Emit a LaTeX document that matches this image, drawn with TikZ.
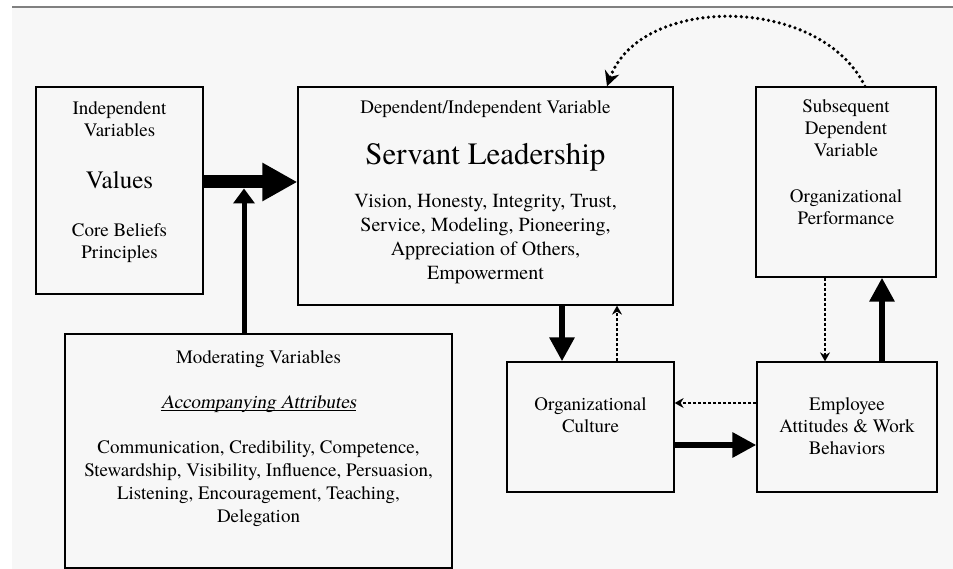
\documentclass[tikz,border=0pt]{standalone}
\usepackage{fontspec}
\newfontfamily\timesfont{TeX Gyre Termes}
\newfontfamily\timesslant{TeX Gyre Termes}[FakeSlant=0.2]
\usetikzlibrary{positioning,arrows.meta}

\tikzset{
  box/.style={draw, line width=1.3pt, inner sep=0pt},
  txt/.style={inner sep=0pt, align=center, font=\timesfont\fontsize{19}{22}\selectfont},
  heavy/.style={line width=6pt, -{Triangle[length=24pt,width=24pt]}},
  weak/.style={line width=1.2pt, dash pattern=on 3pt off 2pt, -{Stealth[length=9pt,width=10pt,inset=3pt]}},
  dotloop/.style={line width=3.6pt, dash pattern=on 0pt off 5.5pt, line cap=round, -{Stealth[length=15pt,width=15pt,inset=5pt]}}
}

\begin{document}
\begin{tikzpicture}[x=1pt, y=-1pt]
    \useasboundingbox (0,0) rectangle (953,569);
    % --- Paper and top rule ---
    \fill[black!3] (12,7) rectangle (953,569);
    \draw[gray, line width=1.5pt] (12,7) -- (953,7);

    % --- Boxes ---
    \node[box, minimum width=167pt, minimum height=207pt] (values) at (119.5,190.5) {};
    \node[box, minimum width=375pt, minimum height=218pt] (servant) at (485.5,196) {};
    \node[box, minimum width=180pt, minimum height=190pt] (perf) at (846,182) {};
    \node[box, minimum width=167pt, minimum height=130pt] (culture) at (590.5,427) {};
    \node[box, minimum width=180pt, minimum height=130pt] (employee) at (847,427) {};
    \node[box, minimum width=387pt, minimum height=234pt] (moder) at (258.5,451) {};

    % --- Box texts ---
    \node[txt, below=15pt of values.north] (valuestxt)
        {Independent\\Variables\\[30pt]{\fontsize{25}{30}\selectfont Values}\\[26pt]Core Beliefs\\Principles};
    \node[txt, below=14pt of servant.north, font=\timesfont\fontsize{20}{24}\selectfont] (servanttxt)
        {{\fontsize{19}{22}\selectfont Dependent/Independent Variable}\\[25pt]
         {\fontsize{31}{36}\selectfont Servant Leadership}\\[19pt]
         Vision, Honesty, Integrity, Trust,\\Service, Modeling, Pioneering,\\Appreciation of Others,\\Empowerment};
    \node[txt, below=13pt of perf.north] (perftxt)
        {Subsequent\\Dependent\\Variable\\[24pt]Organizational\\Performance};
    \node[txt, below=36pt of culture.north] (culturetxt) {Organizational\\Culture};
    \node[txt, below=36pt of employee.north] (employeetxt) {Employee\\Attitudes \& Work\\Behaviors};
    \node[txt, below=17pt of moder.north, font=\timesfont\fontsize{19}{23}\selectfont] (modertxt)
        {Moderating Variables\\[22pt]\underline{\smash{\timesslant Accompanying Attributes}}\\[22pt]
         Communication, Credibility, Competence,\\Stewardship, Visibility, Influence, Persuasion,\\
         Listening, Encouragement, Teaching,\\Delegation};

    % --- Connection points ---
    \coordinate (flow) at (250,182);
    \coordinate (merge) at (244,188.5);
    \coordinate (down) at ([xshift=-28.5pt]culture.north);
    \coordinate (up) at ([xshift=26.5pt]culture.north);
    \coordinate (perfdown) at ([xshift=-21pt]perf.south);
    \coordinate (perfup) at ([xshift=35pt]employee.north);
    \coordinate (loopstart) at ([xshift=19pt]perf.north);
    \coordinate (loopend) at ([xshift=121.5pt]servant.north);

    % --- Solid arrows ---
    \draw[line width=13pt, -{Triangle[length=35pt,width=36pt]}] (values.east |- flow) -- (servant.west |- flow);
    \draw[line width=5pt, -{Triangle[length=15pt,width=21pt]}] (moder.north -| merge) -- (merge);
    \draw[heavy] (servant.south -| down) -- (down);
    \draw[heavy] ([yshift=-18pt]culture.east) -- ([yshift=-18pt]employee.west);
    \draw[heavy] (perfup) -- (perf.south -| perfup);

    % --- Feedback arrows ---
    \draw[weak] (up) -- (servant.south -| up);
    \draw[weak] ([yshift=24pt]employee.west) -- ([yshift=24pt]culture.east);
    \draw[weak] (perfdown) -- (employee.north -| perfdown);
    \draw[dotloop] (loopstart) .. controls +(-45,-92) and +(33,-92) .. (loopend);
\end{tikzpicture}
\end{document}
